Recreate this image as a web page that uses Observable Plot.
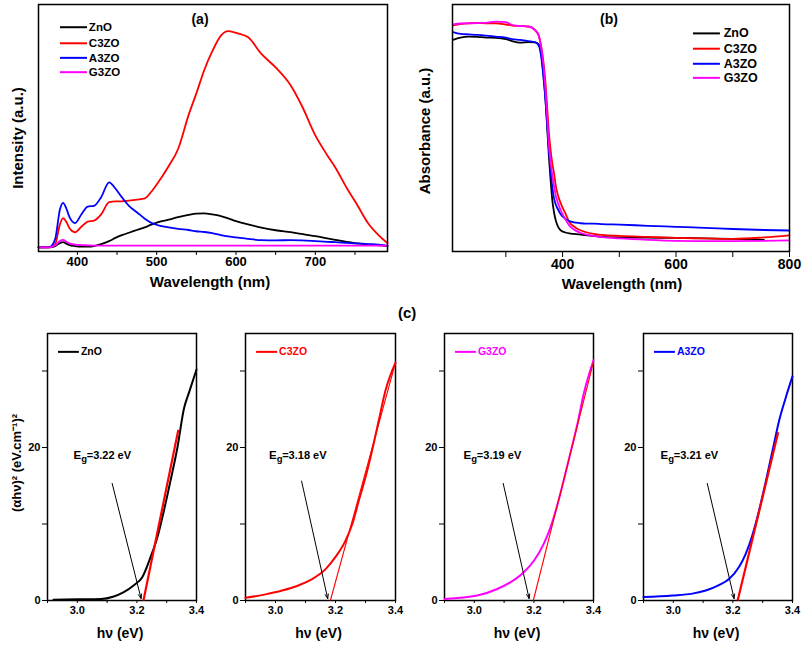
<!DOCTYPE html>
<html><head><meta charset="utf-8">
<script src="https://cdn.jsdelivr.net/npm/d3@7"></script>
<script src="https://cdn.jsdelivr.net/npm/@observablehq/plot@0.6"></script>
<style>
body{margin:0;background:#fff;}
#fig{position:relative;width:803px;height:645px;font-family:'Liberation Sans',Arial,sans-serif;overflow:hidden;}
#fig .panel{position:absolute;}
#fig svg{overflow:visible;background:transparent;}
#clabel{position:absolute;left:398px;top:304px;font-weight:bold;font-size:15px;color:#000;}
</style></head><body><div id="fig"><div id="clabel">(c)</div></div>
<script>
// ---------- shared ----------
const seriesNames = ["ZnO", "C3ZO", "A3ZO", "G3ZO"];
const seriesColors = ["#000000", "#ff0000", "#0000ff", "#ff00ff"];

// ---------- (a) photoluminescence ----------
const plWavelength = [351,365,372,378,382,386,390,397,405,413,421,430,440,448,456,465,475,485,494,502,515,527,540,550,560,570,581,590,600,615,632,650,669,683,700,715,725,740,752,767,780,791];
const plZnO  = [1.7,1.7,2.2,3.4,3.8,3.2,2.6,2.2,2.0,2.0,2.2,3.0,4.2,5.5,6.6,7.6,8.7,9.8,11,11.9,12.9,13.9,14.8,15.3,15.4,15.0,14.3,13.4,12.3,11,9.7,8.6,7.8,7.1,6.2,5.3,4.7,3.9,3.3,2.8,2.5,2.3];
const plC3ZO = [1.7,1.7,3,11,13.5,12,9.5,7.8,10,12.1,12.5,15,20,20.3,20.3,20.6,21,21.5,24.5,28,34.5,41.5,55,64,73.5,81,87.4,89.2,88.5,86.8,80,74.5,67.2,59,47,39,34.1,25.5,19.3,11.2,6.5,3.4];
const plA3ZO = [1.7,1.8,5,17,19.7,17.5,14,11.5,15,18.2,18.5,22,28,25.5,22,18.5,15.9,13.3,11.5,10.6,9.8,9.2,8.7,8.2,7.9,7.4,6.6,6.1,5.7,5.1,4.6,4.5,4.6,4.5,4.2,3.9,3.8,3.5,3.3,3.0,2.8,2.3];
const plG3ZO = [1.7,1.7,2.5,4.2,4.7,4.0,3.3,2.8,2.6,2.5,2.4,2.4,2.4,2.4,2.4,2.4,2.4,2.4,2.4,2.4,2.4,2.4,2.4,2.4,2.4,2.4,2.4,2.4,2.4,2.4,2.4,2.4,2.4,2.4,2.4,2.4,2.4,2.4,2.4,2.4,2.4,2.4];
const plTicks = [400,450,500,550,600,650,700,750];

// ---------- (b) absorbance ----------
const absWavelength = [207,220,235,250,265,282,300,311,325,340,352,358,362,366,370,373,376,379,382,385,388,392,397,405,412,420,430,440,455,470,500,550,600,650,700,755,800];
const absZnO  = [85.7,86.6,87,86.9,86.6,86.5,86,85.2,84.6,84.8,84.7,83.8,80.6,72.5,61.1,49.8,38.2,28.7,20.6,15.8,12.6,10.1,8.5,7.7,7.3,7.1,6.9,6.6,6.3,5.9,5.7,5.6,5.5,5.3,5.1,4.7,null];
const absC3ZO = [91.5,92.1,92.4,92.5,92.4,92.4,91.9,91.5,91.3,91.1,89.5,87.4,83.4,77.3,68,57.9,47.8,40.9,35.6,31.6,26.7,22.7,19.4,15.4,11.9,10.1,8.7,7.9,7.1,6.7,6.3,5.9,5.5,5.3,5.1,5.7,6.5];
const absA3ZO = [88.8,88.1,87.9,87.7,87.4,87,86.6,86,85.7,85.2,84.7,83.4,79.4,71.3,61.1,51,40.9,32.8,26,21.5,19,17,15,13.2,12.3,11.8,11.5,11.3,11.3,11.1,10.9,10.4,10,9.6,9.1,8.7,8.5];
const absG3ZO = [91.9,92.3,92.4,92.5,92.6,93.1,92.9,91.7,91.3,91.1,89.5,87.4,83,76.1,65,54,42.9,36,30.8,26.5,22.7,19.5,16.6,13,10.5,8.9,7.7,6.9,6.3,5.8,5.3,4.7,4.3,4.2,4.2,4.3,4.5];
const absTicks = [300,400,500,600,700,800];

// ---------- (c) Tauc plots ----------
const taucHvZnO  = [2.92,3.0,3.08,3.12,3.156,3.19,3.218,3.246,3.269,3.291,3.313,3.336,3.358,3.375,3.4];
const taucZnO    = [0.1,0.15,0.2,0.5,1.1,2.0,3.05,5.7,8.3,11.8,15.7,20,25.1,27.2,30.2];
const taucHvC3ZO = [2.9,2.967,3.022,3.078,3.122,3.167,3.2,3.233,3.256,3.278,3.3,3.322,3.344,3.367,3.4];
const taucC3ZO   = [0.35,0.8,1.3,2.0,2.8,4.1,5.7,7.8,10,13.1,16.1,19.6,23.5,27.5,31.1];
const taucHvG3ZO = [2.9,3.01,3.077,3.122,3.166,3.2,3.233,3.256,3.278,3.3,3.322,3.345,3.367,3.4];
const taucG3ZO   = [0.2,0.65,1.5,2.4,3.7,5.2,7.4,9.6,12.4,15.7,19.2,22.9,27.0,31.4];
const taucHvA3ZO = [2.9,2.997,3.064,3.109,3.153,3.187,3.221,3.243,3.265,3.288,3.31,3.333,3.355,3.378,3.4];
const taucA3ZO   = [0.45,0.65,0.9,1.3,2.0,2.8,4.4,6.1,8.5,11.8,15.5,19.6,23.5,26.6,29.3];
const taucOrder   = ["ZnO", "C3ZO", "G3ZO", "A3ZO"];
const egValues    = [3.22, 3.18, 3.19, 3.21];
const fitStartX   = [3.222, 3.183, 3.198, 3.216];   // tangent intercept on hv axis
const fitEndX     = [3.339, 3.4, 3.4, 3.352];
const fitEndY     = [22.3, 31.1, 31.2, 22.0];
const arrowFromX  = [3.117, 3.087, 3.097, 3.114];
const arrowFromY  = [15.3, 15.6, 15.3, 15.3];
const egLabelX    = [2.987, 2.978, 2.964, 2.957];
const taucXTicks  = [2.9, 3.0, 3.1, 3.2, 3.3, 3.4];
const taucYTicks  = [0, 10, 20, 30];

// ---------- helpers ----------
const fig = document.getElementById("fig");
function place(el, left, top) {
  const d = document.createElement("div");
  d.className = "panel";
  d.style.left = left + "px";
  d.style.top = top + "px";
  d.appendChild(el);
  fig.appendChild(d);
}
function longRows(xs, lists) {
  const rows = [];
  seriesNames.forEach((s, k) => {
    xs.forEach((x, i) => rows.push({x, v: lists[k][i], series: s}));
  });
  return rows;
}
const baseStyle = (fs) => ({fontFamily: "'Liberation Sans', Arial, sans-serif", fontWeight: "bold", fontSize: fs + "px", color: "#000", background: "transparent", overflow: "visible"});
const legendRows = seriesNames.map((s, i) => ({series: s, i}));
const T = {textAnchor: "middle", lineAnchor: "middle", fontWeight: "bold", fill: "#000"};

// ---------- panel (a) ----------
{
  const rows = longRows(plWavelength, [plZnO, plC3ZO, plA3ZO, plG3ZO]);
  const legY = [90.8, 84.3, 78.4, 72.6];
  const p = Plot.plot({
    width: 400, height: 300,
    marginLeft: 38, marginRight: 13, marginTop: 4, marginBottom: 49,
    style: baseStyle(13),
    x: {domain: [351, 791], ticks: plTicks, tickSize: 4, tickPadding: 1, tickFormat: d => d % 100 === 0 ? String(d) : "", label: null},
    y: {domain: [0, 100], axis: null},
    color: {domain: seriesNames, range: seriesColors},
    marks: [
      Plot.line(rows, {x: "x", y: "v", z: "series", stroke: "series", strokeWidth: 1.8, curve: "monotone-x"}),
      Plot.frame({stroke: "#000", strokeWidth: 1.5}),
      Plot.ruleY(legendRows, {y: d => legY[d.i], x1: 378.7, x2: 412.8, stroke: "series", strokeWidth: 2}),
      Plot.text(legendRows, {y: d => legY[d.i], x: 414.5, text: "series", textAnchor: "start", fill: "#000", fontSize: 11.5, fontWeight: "bold"}),
      Plot.text(["(a)"], {...T, frameAnchor: "top", dx: -13, dy: 15, fontSize: 14}),
      Plot.text(["Wavelength (nm)"], {...T, frameAnchor: "bottom", dx: -3, dy: 31, fontSize: 15}),
      Plot.text(["Intensity (a.u.)"], {...T, frameAnchor: "left", dx: -20, dy: 10, rotate: -90, fontSize: 15})
    ]
  });
  place(p, 0, 0);
}

// ---------- panel (b) ----------
{
  const rows = longRows(absWavelength, [absZnO, absC3ZO, absA3ZO, absG3ZO]);
  const legY = [88.3, 82.1, 76.0, 70.3];
  const p = Plot.plot({
    width: 403, height: 300,
    marginLeft: 52, marginRight: 14, marginTop: 4, marginBottom: 49,
    style: baseStyle(14),
    x: {domain: [206, 800], ticks: absTicks, tickSize: 6, tickPadding: 2, tickFormat: d => d % 200 === 0 ? String(d) : "", label: null},
    y: {domain: [0, 100], axis: null},
    color: {domain: seriesNames, range: seriesColors},
    marks: [
      Plot.line(rows, {x: "x", y: "v", z: "series", stroke: "series", strokeWidth: 1.8, curve: "monotone-x"}),
      Plot.frame({stroke: "#000", strokeWidth: 1.5}),
      Plot.ruleY(legendRows, {y: d => legY[d.i], x1: 630.7, x2: 678.2, stroke: "series", strokeWidth: 2}),
      Plot.text(legendRows, {y: d => legY[d.i], x: 684, text: "series", textAnchor: "start", fill: "#000", fontSize: 12.5, fontWeight: "bold"}),
      Plot.text(["(b)"], {...T, frameAnchor: "top", dx: -12, dy: 15, fontSize: 14}),
      Plot.text(["Wavelength (nm)"], {...T, frameAnchor: "bottom", dx: 1, dy: 33, fontSize: 15}),
      Plot.text(["Absorbance (a.u.)"], {...T, frameAnchor: "left", dx: -27, dy: 3, rotate: -90, fontSize: 15})
    ]
  });
  place(p, 400, 0);
}

// ---------- panel (c) ----------
{
  const hvs = {ZnO: taucHvZnO, C3ZO: taucHvC3ZO, G3ZO: taucHvG3ZO, A3ZO: taucHvA3ZO};
  const ys  = {ZnO: taucZnO, C3ZO: taucC3ZO, G3ZO: taucG3ZO, A3ZO: taucA3ZO};
  const layout = [
    {left: 0,   width: 210, ml: 47, mr: 14, fitW: 2.2},
    {left: 210, width: 200, ml: 35, mr: 15, fitW: 1.1},
    {left: 410, width: 200, ml: 34, mr: 17, fitW: 1.1},
    {left: 610, width: 193, ml: 33, mr: 11, fitW: 2.2}
  ];
  taucOrder.forEach((name, k) => {
    const color = seriesColors[seriesNames.indexOf(name)];
    const rows = hvs[name].map((x, i) => ({x, v: ys[name][i]}));
    const L = layout[k];
    const lab = [{x: egLabelX[k], y: 19}];
    const marks = [
      Plot.frame({stroke: "#000", strokeWidth: 1.5}),
      Plot.line(rows, {x: "x", y: "v", stroke: color, strokeWidth: 2, curve: "monotone-x"}),
      Plot.link([{x1: fitStartX[k], y1: 0, x2: fitEndX[k], y2: fitEndY[k]}], {x1: "x1", y1: "y1", x2: "x2", y2: "y2", stroke: "#ff0000", strokeWidth: L.fitW}),
      Plot.arrow([{x1: arrowFromX[k], y1: arrowFromY[k], x2: egValues[k] - 0.006, y2: 0.25}], {x1: "x1", y1: "y1", x2: "x2", y2: "y2", stroke: "#000", strokeWidth: 1, headLength: 7, headAngle: 40}),
      Plot.ruleY([{y: 32.5}], {y: "y", x1: 2.937, x2: 3.007, stroke: color, strokeWidth: 2}),
      Plot.text([{x: 3.012, y: 32.5}], {x: "x", y: "y", text: () => name, textAnchor: "start", fill: color, fontSize: 10.5, fontWeight: "bold"}),
      Plot.text(lab, {x: "x", y: "y", text: () => "E", textAnchor: "start", fill: "#000", fontSize: 11.5, fontWeight: "bold"}),
      Plot.text(lab, {x: "x", y: "y", text: () => "g", dx: 7.8, dy: 4, textAnchor: "start", fill: "#000", fontSize: 9.5, fontWeight: "bold"}),
      Plot.text(lab, {x: "x", y: "y", text: () => "=" + egValues[k].toFixed(2) + " eV", dx: 13.3, textAnchor: "start", fill: "#000", fontSize: 11, fontWeight: "bold"}),
      Plot.text(["h\u03bd (eV)"], {...T, frameAnchor: "bottom", dx: -2, dy: 33, fontSize: 14})
    ];
    if (k === 0) {
      marks.push(Plot.text(["(\u03b1h\u03bd)\u00b2 (eV.cm\u207b\u00b9)\u00b2"], {...T, frameAnchor: "left", dx: -31, dy: -4, rotate: -90, fontSize: 13}));
    }
    const p = Plot.plot({
      width: L.width, height: 345,
      marginLeft: L.ml, marginRight: L.mr, marginTop: 33, marginBottom: 45,
      style: baseStyle(11),
      x: {domain: [2.9, 3.4], ticks: taucXTicks, tickSize: 3, tickPadding: 3, tickFormat: d => Math.round(d * 10) % 2 === 0 ? d.toFixed(1) : "", label: null},
      y: {domain: [0, 34.9], ticks: taucYTicks, tickSize: 5, tickPadding: 2, tickFormat: d => d % 20 === 0 ? String(d) : "", label: null},
      marks
    });
    place(p, L.left, 300);
  });
}
</script>
</body></html>
